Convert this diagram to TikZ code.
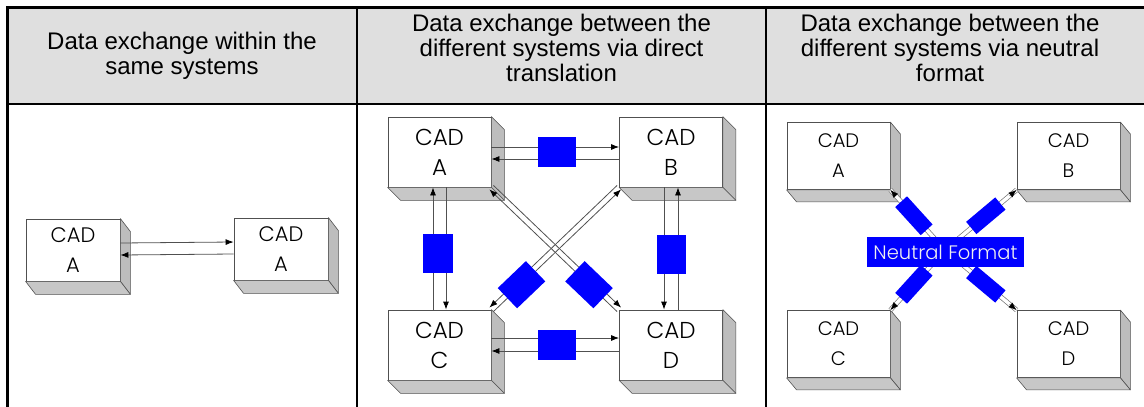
\documentclass[tikz,border=0pt]{standalone}
\usepackage{fontspec}
\setmainfont{Liberation Sans}
\newfontfamily\cadfont{Poppins}[UprightFont=* Light]
\usetikzlibrary{arrows.meta,calc}
\definecolor{hdrgray}{HTML}{DFDFDF}
\definecolor{edge}{HTML}{505050}
\definecolor{sidegray}{HTML}{BDBDBD}
\definecolor{fmtblue}{HTML}{0000FF}

% 3D CAD box: name, centre, letter (uses \bw \bh \dx \dy \cadfs)
\newcommand{\cadbox}[3]{%
  \node[cad, minimum width=\bw pt, minimum height=\bh pt] (#1) at #2 {CAD\\#3};
  \filldraw[face] (#1.north east) -- ++(\dx,\dy) -- ([shift={(\dx,\dy)}]#1.south east) -- (#1.south east) -- cycle;
  \filldraw[face, fill=sidegray!85] (#1.south west) -- ++(\dx,\dy) -- ([shift={(\dx,\dy)}]#1.south east) -- (#1.south east) -- cycle;
}

\begin{document}
\begin{tikzpicture}[x=1pt,y=-1pt,
  rule/.style={line width=2.4pt, black},
  hdr/.style={font=\fontsize{24}{25}\selectfont, align=center},
  cad/.style={draw=edge, fill=white, line width=0.8pt, align=center, inner sep=0pt, font=\cadfont\fontsize{\cadfs}{30}\selectfont},
  face/.style={fill=sidegray, draw=edge, line width=0.6pt, line join=round},
  link/.style={draw=edge, line width=0.8pt, -{Latex[length=8pt,width=6pt,color=black]}},
  blk/.style={fill=fmtblue, inner sep=0pt},
  arm/.style={draw=edge!80, double=white, double distance=3.4pt, line width=0.7pt},
  tip/.style={draw=edge, line width=0.5pt, -{Latex[length=8pt,width=6pt,color=black]}},
  fmt/.style={fill=fmtblue, text=white!88!gray, minimum width=157pt, minimum height=30pt, inner sep=0pt, font=\cadfont\fontsize{19.5}{22}\selectfont}
]
\useasboundingbox (0,0) rectangle (1144,407);

% ===== TABLE =====
\fill[hdrgray] (7.5,7.5) rectangle (1144,104);
\draw[rule] (1144,7.5) -- (7.5,7.5) -- (7.5,407);
\draw[rule] (7.5,104) -- (1144,104);
\draw[rule] (357,7.5) -- (357,407);
\draw[rule] (766,7.5) -- (766,407);
\node[hdr] (h1) at (182,56) {Data exchange within the\\same systems};
\node[hdr] (h2) at (561.5,48) {Data exchange between the\\different systems via direct\\translation};
\node[hdr] (h3) at (950,48) {Data exchange between the\\different systems via neutral\\format};

% ===== SAME SYSTEMS =====
\def\bw{94}\def\bh{62}\def\dx{10}\def\dy{13}\def\cadfs{21}
\cadbox{sa}{(73,250)}{A}
\cadbox{sb}{(281,249)}{A}
\draw[link] ([yshift=7pt]sa.east) -- ([yshift=7pt]sb.west);
\draw[link] ([yshift=-5pt]sb.west) -- ([yshift=-5pt]sa.east);

% ===== DIRECT TRANSLATION =====
\def\bw{103}\def\bh{70}\def\dx{13}\def\dy{13}\def\cadfs{23}
\cadbox{da}{(439.5,152)}{A}
\cadbox{db}{(671,152)}{B}
\cadbox{dc}{(439.5,345)}{C}
\cadbox{dd}{(671,345)}{D}

% horizontal and vertical pairs
\draw[link] ([yshift=5pt]da.east) -- ([yshift=5pt]db.west);
\draw[link] ([yshift=-7pt]db.west) -- ([yshift=-7pt]da.east);
\draw[link] ([yshift=7pt]dc.east) -- ([yshift=7pt]dd.west);
\draw[link] ([yshift=-6pt]dd.west) -- ([yshift=-6pt]dc.east);
\draw[link] ([xshift=-6.5pt]dc.north) -- ([xshift=-6.5pt]da.south);
\draw[link] ([xshift=6.5pt]da.south) -- ([xshift=6.5pt]dc.north);
\draw[link] ([xshift=-7pt]db.south) -- ([xshift=-7pt]dd.north);
\draw[link] ([xshift=7pt]dd.north) -- ([xshift=7pt]db.south);
\node[blk, minimum width=38pt, minimum height=30pt] (xab) at (557,152) {};
\node[blk, minimum width=38pt, minimum height=30pt] (xcd) at (556.5,344.5) {};
\node[blk, minimum width=30pt, minimum height=39pt] (xac) at (438,253.5) {};
\node[blk, minimum width=29pt, minimum height=39pt] (xbd) at (671.5,254.5) {};

% diagonal pairs
\draw[link] ([shift={(2,-2)}]da.south east) -- ([shift={(2,-2)}]dd.north west);
\draw[link] ([shift={(-2,2)}]dd.north west) -- ([shift={(-2,2)}]da.south east)
  node[blk, pos=.22, sloped, minimum width=39pt, minimum height=28pt] (xad) {};
\draw[link] ([shift={(-2,-2)}]db.south west) -- ([shift={(-2,-2)}]dc.north east);
\draw[link] ([shift={(2,2)}]dc.north east) -- ([shift={(2,2)}]db.south west)
  node[blk, pos=.22, sloped, minimum width=39pt, minimum height=28pt] (xbc) {};

% ===== NEUTRAL FORMAT =====
\def\bw{103}\def\bh{67}\def\dx{10}\def\dy{12}\def\cadfs{19.5}
\cadbox{na}{(838.5,156)}{A}
\cadbox{nb}{(1068.5,156)}{B}
\cadbox{nc}{(838.5,344)}{C}
\cadbox{nd}{(1068.5,344)}{D}
\coordinate (nf) at (945,250);
\foreach \b/\a in {na/south east, nb/south west, nc/north east, nd/north west}{
  \draw[arm] (nf) -- (\b.\a)
    node[blk, pos=.57, sloped, minimum width=38pt, minimum height=16pt] (r\b) {};
  \draw[tip] ($(nf)!.9!(\b.\a)$) -- (\b.\a);
}
\node[fmt] (nfl) at (945.5,252) {Neutral Format};

\end{tikzpicture}
\end{document}
